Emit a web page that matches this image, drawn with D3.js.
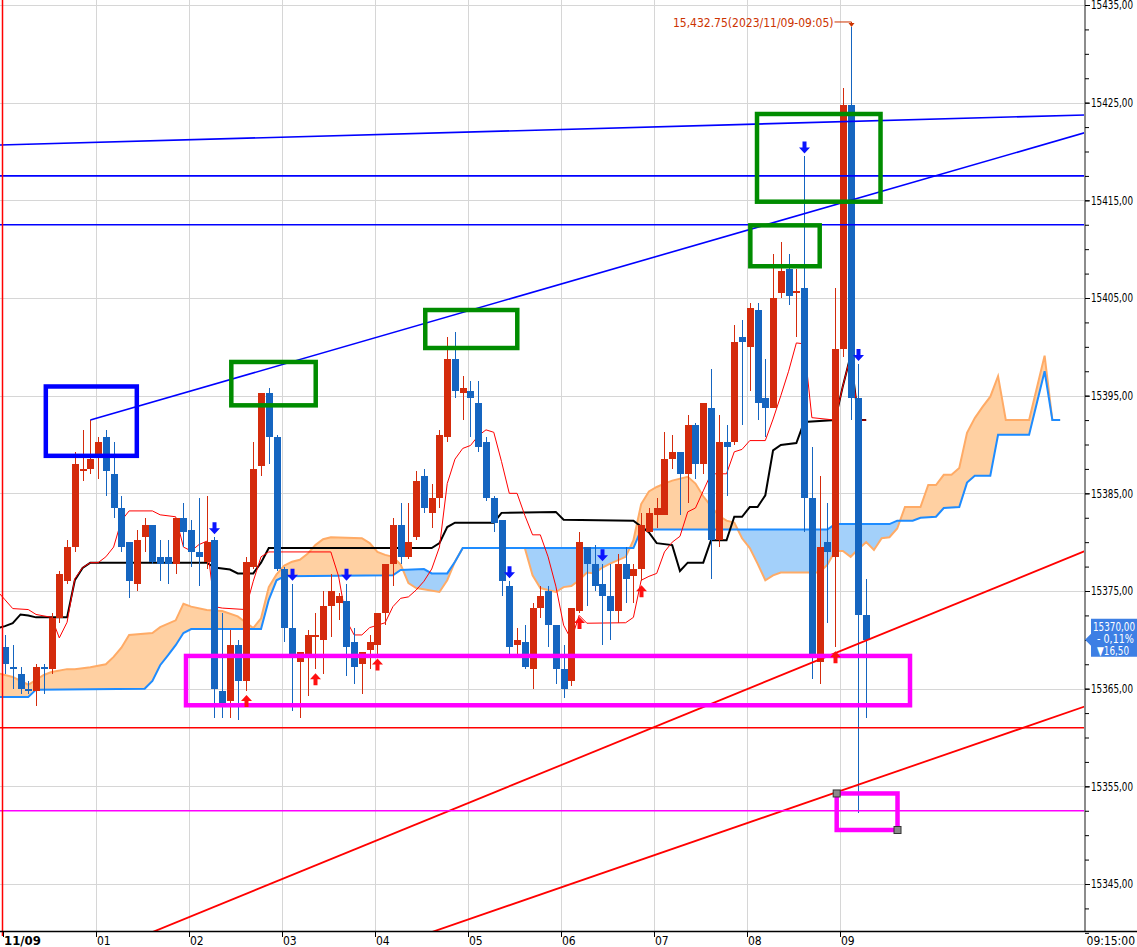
<!DOCTYPE html>
<html lang="ja">
<head>
<meta charset="utf-8">
<title>5分足 一目均衡表</title>
<script src="https://d3js.org/d3.v7.min.js"></script>
<style>
    html, body {
        margin: 0;
        padding: 0;
        background: #fff;
    }
    svg {
        display: block;
    }
    text {
        font-family: "Liberation Sans Narrow", "DejaVu Sans Condensed", "Arial Narrow", sans-serif;
        font-size: 12px;
    }
    .grid line {
        stroke: #d6d6d6;
        stroke-width: 1;
    }
    .candle {
        shape-rendering: crispEdges;
    }
</style>
</head>
<body>
<svg id="chart" width="1137" height="947"></svg>
<script>
    // 5-minute candles, 11/09 00:00 - 09:15
    var opens = [15369.25,15367.25,15366.5,15365,15364.75,15367.25,15367,15372.25,15376,15379.5,
        15387.25,15387.5,15389,15390.75,15387,15383.5,15380,15375.75,15380.5,15381.75,
        15378.5,15378.5,15377.75,15382.5,15381.25,15379,15378,15380.25,15364.75,15363.75,
        15369.5,15365.75,15377.5,15387.75,15395.25,15390.75,15377.25,15371.25,15367.75,15368.5,
        15370.25,15370,15373.5,15373.75,15374,15369.75,15367.5,15369,15369.5,15372.75,
        15377.75,15381.75,15378.5,15380.5,15386.75,15383,15384.5,15390.75,15398.75,15395.25,
        15395.5,15394.25,15390.25,15384.5,15382.25,15375.5,15369.5,15369.75,15367,15373.25,
        15375,15371.5,15367,15365.75,15373,15379.5,15377.75,15375.75,15374.5,15373,
        15377.75,15376.5,15377.25,15381,15382.75,15382.75,15388.5,15389.25,15387,15392,
        15388,15393.75,15380.25,15390.25,15390.25,15401,15400,15403.75,15394.75,15393.75,
        15405.5,15408,15405.5,15406,15384.5,15367.75,15380,15378.5,15399.75,15424.75,
        15394.75,15372.5];
    var highs = [15370.5,15369.5,15367.25,15365.75,15367.5,15367.5,15372.75,15377,15380.25,15389.25,
        15391.5,15392.5,15390.75,15391.5,15390.25,15384.75,15380,15381.25,15382.5,15381.75,
        15380.25,15380.25,15382.5,15384,15382.25,15384.5,15384.75,15380.5,15372.75,15371,
        15370,15378.5,15390.25,15395.25,15395.75,15391,15377.5,15375.75,15368.75,15371,
        15372.75,15375,15376.75,15374.75,15375.75,15371.25,15368.75,15370.5,15372.75,15377.75,
        15382.5,15384,15384,15387.25,15387.5,15386,15391.5,15401,15401.5,15397,
        15396.5,15396.5,15390.75,15384.75,15382.25,15376,15371.25,15371.5,15373.75,15375.5,
        15375.5,15371.5,15369.5,15373.25,15381,15379.5,15379.75,15377.75,15377.75,15378.75,
        15379.5,15377.75,15383,15383.5,15384.5,15391.25,15391,15389.25,15393,15392.25,
        15394.25,15397.75,15393,15392,15402.25,15402.75,15404.5,15404.5,15398.75,15409.5,
        15410.75,15409.5,15408,15419.5,15389.75,15386.75,15384,15406,15426.5,15432.75,
        15398.25,15376.25];
    var lows = [15366.5,15365,15364.5,15364.5,15363.25,15364.5,15366.5,15371.75,15375.75,15379,
        15386.25,15387,15386.5,15384.75,15382.5,15379,15374.25,15375,15379,15377.75,
        15376,15375.75,15376.75,15379.5,15377.5,15375.5,15377.25,15362,15362,15362,
        15361.75,15364.75,15377.25,15386.75,15388,15377,15369.75,15362.75,15362,15364.25,
        15367,15366.5,15370.25,15372,15366.25,15365.5,15364.5,15367,15368.5,15371.5,
        15375.5,15377.75,15378.25,15380.25,15383,15381.5,15383.5,15390.25,15394.75,15392.5,
        15390.75,15389.25,15384.25,15381,15374.5,15368.5,15368.5,15367,15365,15372.25,
        15369.25,15365.5,15364,15365.25,15372.75,15373.5,15375,15369.5,15370,15371.75,
        15373.75,15373.75,15376,15381,15381.5,15382.75,15387.5,15382.75,15384,15386.5,
        15387,15376.25,15379.5,15384.75,15390,15392,15395.5,15392.5,15390.75,15393.75,
        15405,15404.25,15401,15381,15366,15365.5,15371.75,15369.25,15399,15392.5,
        15352.25,15362];
    var closes = [15367.5,15367,15365,15364.75,15367.25,15367,15372.25,15376.75,15379.5,15388,
        15387.5,15388.5,15390.25,15387.25,15383.5,15379.5,15376,15380.25,15381.75,15378,
        15377.75,15377.75,15382.5,15381,15379,15378.5,15380,15365,15363.5,15369.5,
        15365.75,15378,15387.5,15395.25,15390.75,15377.25,15371.25,15368.5,15368.75,15370.5,
        15370.5,15373.5,15375,15374.5,15369.25,15367.25,15368.75,15369.75,15372.75,15377.75,
        15381.75,15378.5,15380,15386.25,15383.5,15384.5,15391,15398.75,15395.5,15395.75,
        15394.75,15389.75,15384.5,15382,15376,15369.25,15370,15367.25,15373.25,15374.5,
        15371.5,15367,15365,15373.25,15380,15377.75,15375.5,15374.5,15373,15377.75,
        15376.25,15377.25,15381.75,15383,15383.5,15388.5,15389.25,15387,15392,15388,
        15394.25,15380.25,15390.25,15389.75,15400.5,15400.5,15404,15394.25,15393.75,15405,
        15407.75,15405.25,15405.75,15384.5,15368.5,15379.5,15379,15399.75,15424.75,15394.75,
        15372.5,15370];

    // ichimoku lines as [bar index, price] points
    var tenkan = [[-1,15375],[0,15374.1],[1,15373.2],[3,15373.1],[4,15372.6],[6,15372.3],[7,15370.2],[8,15371.8],
        [9,15376.25],[10,15377.4],[11,15377.9],[12,15377.9],[13,15378.5],[14,15379.5],[15,15382.2],[16,15383.2],
        [19,15383.2],[20,15382.8],[22,15382.6],[23,15379.5],[24,15379.1],[25,15379.75],[26,15380.1],[27,15373.4],
        [28,15373.25],[31,15373.1],[32,15376],[33,15378.5],[34,15379],[42,15379],[43,15376.5],[44,15372],
        [45,15370.5],[46,15370.5],[47,15371.25],[48,15371.5],[49,15371.75],[50,15373.4],[51,15374.25],[52,15374.4],
        [53,15375.1],[54,15376],[55,15377.25],[56,15379.5],[57,15386],[58,15388.5],[59,15389.6],[60,15389.9],
        [61,15390.9],[62,15391.5],[63,15391.25],[64,15388.25],[65,15385],[66,15385],[67,15382.75],[68,15380.75],
        [69,15380.75],[70,15378.5],[71,15375.5],[72,15371.5],[73,15370],[74,15372.5],[75,15371.7],[80,15371.75],
        [81,15372.3],[82,15376.1],[83,15376.5],[84,15376.8],[85,15379],[86,15380],[87,15380.6],[88,15383.1],
        [89,15383.5],[90,15385.25],[91,15387],[93,15387],[94,15389.25],[95,15389.5],[96,15390.4],[98,15390.4],
        [99,15392.6],[100,15395],[101,15397.5],[102,15400.4],[103,15400.3],[104,15392.75],[107,15392.5],[108,15396],
        [109,15399.1],[110,15392.5],[111,15392.5]];
    var kijun = [[-1,15371.2],[0,15371.4],[1,15371.7],[2,15372.6],[3,15372.5],[4,15372.3],[8,15372.3],[9,15376.1],
        [10,15377.35],[11,15377.9],[26,15377.9],[27,15377.4],[29,15377.2],[30,15376.8],[32,15376.8],[33,15377.9],
        [34,15379.4],[55,15379.4],[56,15379.9],[57,15381.55],[58,15382],[63,15382],[64,15383],[71,15383.1],
        [72,15382.3],[81,15382.2],[83,15381],[84,15379.9],[86,15379.7],[87,15377.05],[88,15377.9],[90,15377.9],
        [91,15380.2],[93,15380.2],[94,15382.6],[95,15382.6],[96,15383.6],[97,15383.6],[98,15384.8],[99,15389.4],
        [100,15389.95],[102,15390.15],[103,15392.3],[107,15392.5],[108,15396],[109,15399.1],[110,15392.5],[111,15392.5]];
    var spanA = [[-1,15366.6],[1,15366.2],[3,15365.4],[5,15366.4],[6,15366.7],[8,15367],[9,15367],[11,15367.2],
        [13,15367.5],[14,15368.25],[15,15369.2],[16,15370.5],[19,15370.7],[20,15371.3],[22,15372],[23,15373.7],
        [24,15373.4],[26,15373.05],[28,15372.95],[30,15372.4],[31,15371.8],[32,15371.2],[33,15372.2],[34,15375.4],
        [35,15376.7],[36,15377.6],[37,15378],[38,15378.2],[39,15378.8],[40,15379.7],[41,15380.3],[42,15380.5],
        [46,15380.4],[47,15379.9],[48,15379],[49,15378.7],[50,15378.5],[51,15377.7],[52,15375.8],[53,15375.3],
        [56,15374.9],[57,15376.1],[58,15378],[59,15379.4],[67,15379.4],[68,15376.6],[69,15375.3],[71,15374.9],
        [72,15375.4],[73,15375.5],[74,15376.1],[75,15376.9],[76,15376.8],[77,15377.4],[78,15377.8],[80,15378.5],
        [81,15380.2],[82,15383.9],[83,15385.2],[84,15385.65],[85,15386],[86,15386.3],[88,15386.7],[89,15386],
        [90,15384.7],[91,15383.7],[92,15382.7],[93,15382.2],[94,15382],[95,15380.4],[96,15379.4],[97,15377.8],
        [98,15376.1],[99,15376.6],[100,15376.9],[105,15376.9],[106,15377.7],[107,15379.1],[108,15379.1],[109,15378.5],
        [110,15379.3],[111,15380],[112,15379.2],[113,15380.4],[114,15380.5],[115,15381.4],[116,15383.6],[118,15383.6],
        [119,15385.85],[120,15385.85],[121,15386.9],[122,15386.9],[123,15387.6],[124,15391.2],[125,15392.7],[126,15393.85],
        [127,15394.9],[128,15397],[129,15392.5],[132,15392.5],[134,15399.1],[135,15392.5],[136,15392.5]];
    var spanB = [[-1,15364.15],[3,15364.15],[4,15364.9],[18,15365],[19,15365.8],[20,15367.4],[21,15368.4],[22,15369.45],
        [23,15370.7],[24,15371.1],[33,15371.1],[34,15374.1],[35,15376.1],[36,15376.5],[50,15376.6],[51,15377.15],
        [54,15377.25],[55,15376.8],[57,15376.8],[58,15378],[59,15379.4],[81,15379.4],[82,15381.3],[106,15381.3],
        [107,15381.85],[114,15381.85],[115,15382.2],[117,15382.2],[118,15382.5],[120,15382.6],[121,15383.5],[123,15383.6],
        [124,15386.1],[125,15386.8],[127,15386.8],[128,15391],[132,15391],[134,15397.5],[135,15392.5],[136,15392.5]];

    // signals
    var sellSignals = [27, 37, 44, 65, 77, 103, 110];
    var buySignals = [31, 40, 48, 74, 82, 107];

    // drawn lines: two anchor points [bar, price]
    var trendTop = [[0, 15420.68], [100, 15422.88]];
    var trendUpper = [[11, 15392.5], [109, 15415]];
    var trendLow1 = [[20, 15340.4], [130, 15376.1]];
    var trendLow2 = [[56, 15340.35], [107, 15354.35]];
    var levelsBlue = [15417.5, 15412.5];
    var levelRed = 15361;
    var levelMagenta = 15352.5;

    // boxes: [[bar0, priceTop], [bar1, priceBottom]]
    var boxBlue = [[5.26, 15395.94], [16.99, 15388.84]];
    var boxesGreen = [
        [[29.17, 15398.45], [40.05, 15394.01]],
        [[54.17, 15403.77], [66.03, 15399.88]],
        [[96.07, 15412.44], [105.01, 15408.25]],
        [[96.93, 15423.84], [112.85, 15414.86]]
    ];
    var boxesMagenta = [
        [[23.33, 15368.35], [116.65, 15363.3]],
        [[107.2, 15354.27], [115.04, 15350.53]]
    ];

    var yLabels = [15345, 15355, 15365, 15375, 15385, 15395, 15405, 15415, 15425, 15435];
    var hourBars = [0, 12, 24, 36, 48, 60, 72, 84, 96, 108];
    var hourLabels = ["11/09", "01", "02", "03", "04", "05", "06", "07", "08", "09"];
    var lastTime = "09:15:00";
    var highBar = 109;
    var highText = "15,432.75(2023/11/09-09:05)";
    var lastPrice = 15370;
    var changePct = "- 0,11%";
    var changeAbs = "▼16,50";

    var plotRight = 1085;
    var plotBottom = 931;

    var svg = d3.select("#chart");

    var x = d3.scaleLinear().domain([0, 111]).range([5, 866.17]);
    var y = d3.scaleLinear().domain([15345, 15435]).range([884, 5]);

    var defs = svg.append("defs");
    defs.append("clipPath").attr("id", "plot")
        .append("rect")
        .attr("x", 0).attr("y", 0)
        .attr("width", plotRight).attr("height", plotBottom);

    var area = d3.area().x(d => x(d[0])).y1(d => y(d[1]));
    defs.append("clipPath").attr("id", "aboveB")
        .append("path")
        .attr("d", area.y0(0)(spanB));
    defs.append("clipPath").attr("id", "aboveA")
        .append("path")
        .attr("d", area.y0(0)(spanA));

    var plot = svg.append("g").attr("clip-path", "url(#plot)");

    // grid
    var grid = plot.append("g").attr("class", "grid");
    grid.selectAll("line.h")
        .data(yLabels)
        .enter()
        .append("line")
        .attr("x1", 0).attr("x2", plotRight)
        .attr("y1", d => Math.round(y(d)) + 0.5)
        .attr("y2", d => Math.round(y(d)) + 0.5);
    grid.selectAll("line.v")
        .data(hourBars.slice(1))
        .enter()
        .append("line")
        .attr("x1", d => Math.round(x(d) - 2.5) + 0.5)
        .attr("x2", d => Math.round(x(d) - 2.5) + 0.5)
        .attr("y1", 0).attr("y2", plotBottom);

    // cloud
    plot.append("path")
        .attr("d", area.y0(plotBottom)(spanA))
        .attr("fill", "#ffd0a2")
        .attr("clip-path", "url(#aboveB)");
    plot.append("path")
        .attr("d", area.y0(plotBottom)(spanB))
        .attr("fill", "#a3d0fa")
        .attr("clip-path", "url(#aboveA)");

    var line = d3.line().x(d => x(d[0])).y(d => y(d[1]));

    plot.append("path").datum(spanA)
        .attr("d", line).attr("fill", "none")
        .attr("stroke", "#ffab66").attr("stroke-width", 2);
    plot.append("path").datum(spanB)
        .attr("d", line).attr("fill", "none")
        .attr("stroke", "#1e8cff").attr("stroke-width", 2);
    plot.append("path").datum(kijun)
        .attr("d", line).attr("fill", "none")
        .attr("stroke", "#000").attr("stroke-width", 2);
    plot.append("path").datum(tenkan)
        .attr("d", line).attr("fill", "none")
        .attr("stroke", "#ff0000").attr("stroke-width", 1);

    // day separator
    svg.append("line")
        .attr("x1", 2.5).attr("x2", 2.5)
        .attr("y1", 0).attr("y2", plotBottom + 5)
        .attr("stroke", "#ff0000").attr("stroke-width", 1.5);

    // candles
    var bars = opens.map((o, i) => ({ i: i, o: o, h: highs[i], l: lows[i], c: closes[i] }));
    var red = "#d42b0c";
    var blue = "#1565c0";

    var cg = plot.append("g").attr("class", "candle");
    cg.selectAll("line")
        .data(bars)
        .enter()
        .append("line")
        .attr("x1", d => Math.round(x(d.i)) + 0.5)
        .attr("x2", d => Math.round(x(d.i)) + 0.5)
        .attr("y1", d => y(d.h))
        .attr("y2", d => y(d.l))
        .attr("stroke", d => d.c >= d.o ? red : blue)
        .attr("stroke-width", 1);
    cg.selectAll("rect")
        .data(bars)
        .enter()
        .append("rect")
        .attr("x", d => Math.round(x(d.i)) - 3)
        .attr("width", 7)
        .attr("y", d => y(Math.max(d.o, d.c)))
        .attr("height", d => Math.max(2, y(Math.min(d.o, d.c)) - y(Math.max(d.o, d.c))))
        .attr("fill", d => d.c >= d.o ? red : blue);

    // trend lines
    function extend(pts, fromStart) {
        var a = pts[0], b = pts[1];
        var k = (b[1] - a[1]) / (b[0] - a[0]);
        var x0 = fromStart ? a[0] : -3;
        return [[x0, a[1] + k * (x0 - a[0])], [145, a[1] + k * (145 - a[0])]];
    }
    plot.append("path").datum(extend(trendTop, false))
        .attr("d", line).attr("stroke", "#0000ff").attr("stroke-width", 1.6).attr("fill", "none");
    plot.append("path").datum(extend(trendUpper, true))
        .attr("d", line).attr("stroke", "#0000ff").attr("stroke-width", 1.6).attr("fill", "none");
    plot.append("path").datum(extend(trendLow1, false))
        .attr("d", line).attr("stroke", "#ff0000").attr("stroke-width", 1.8).attr("fill", "none");
    plot.append("path").datum(extend(trendLow2, false))
        .attr("d", line).attr("stroke", "#ff0000").attr("stroke-width", 1.8).attr("fill", "none");

    plot.selectAll("line.lvb")
        .data(levelsBlue)
        .enter()
        .append("line")
        .attr("x1", 0).attr("x2", plotRight)
        .attr("y1", d => y(d)).attr("y2", d => y(d))
        .attr("stroke", "#0000ff").attr("stroke-width", 1.6);
    plot.append("line")
        .attr("x1", 0).attr("x2", plotRight)
        .attr("y1", y(levelRed)).attr("y2", y(levelRed))
        .attr("stroke", "#ff0000").attr("stroke-width", 1.5);
    plot.append("line")
        .attr("x1", 0).attr("x2", plotRight)
        .attr("y1", y(levelMagenta)).attr("y2", y(levelMagenta))
        .attr("stroke", "#ff00ff").attr("stroke-width", 1.5);

    // boxes
    function drawBox(b, color) {
        plot.append("rect")
            .attr("x", x(b[0][0]))
            .attr("y", y(b[0][1]))
            .attr("width", x(b[1][0]) - x(b[0][0]))
            .attr("height", y(b[1][1]) - y(b[0][1]))
            .attr("fill", "none")
            .attr("stroke", color)
            .attr("stroke-width", 4.5);
    }
    drawBox(boxBlue, "#0000ff");
    boxesGreen.forEach(b => drawBox(b, "#008c00"));
    boxesMagenta.forEach(b => drawBox(b, "#ff00ff"));

    // handles of the selected small box
    var small = boxesMagenta[1];
    plot.selectAll("rect.handle")
        .data([[small[0][0], small[0][1]], [small[1][0], small[1][1]]])
        .enter()
        .append("rect")
        .attr("x", d => x(d[0]) - 3.5)
        .attr("y", d => y(d[1]) - 3.5)
        .attr("width", 7).attr("height", 7)
        .attr("fill", "#8a8a8a")
        .attr("stroke", "#333")
        .attr("stroke-width", 1);

    // signal arrows
    var down = "M-2,-12 h4 v6 h3.5 l-5.5,6 l-5.5,-6 h3.5 z";
    var up = "M-2,12 h4 v-6 h3.5 l-5.5,-6 l-5.5,6 h3.5 z";
    plot.selectAll("path.sell")
        .data(sellSignals)
        .enter()
        .append("path")
        .attr("d", down)
        .attr("transform", i => `translate(${Math.round(x(i)) + 0.5}, ${y(highs[i]) - 3})`)
        .attr("fill", "#0a14ff");
    plot.selectAll("path.buy")
        .data(buySignals)
        .enter()
        .append("path")
        .attr("d", up)
        .attr("transform", i => `translate(${Math.round(x(i)) + 0.5}, ${y(lows[i]) + 4})`)
        .attr("fill", "#ff1010");

    // high label
    var hx = Math.round(x(highBar)) + 0.5;
    var hy = y(highs[highBar]);
    svg.append("text")
        .attr("x", hx - 18)
        .attr("y", hy)
        .attr("text-anchor", "end")
        .attr("fill", "#cc3300")
        .text(highText);
    svg.append("path")
        .attr("d", `M${hx - 17},${hy - 5} H${hx} V${hy - 3}`)
        .attr("fill", "none")
        .attr("stroke", "#cc3300")
        .attr("stroke-width", 1);
    svg.append("path")
        .attr("d", `M${hx - 3},${hy - 4} h6 l-3,4 z`)
        .attr("fill", "#cc3300");

    // right axis
    svg.append("line")
        .attr("x1", plotRight).attr("x2", plotRight)
        .attr("y1", 0).attr("y2", plotBottom)
        .attr("stroke", "#8c8c8c").attr("stroke-width", 2);

    var minor = svg.append("g")
        .attr("transform", `translate(${plotRight}, 0)`)
        .call(d3.axisRight(y).tickValues(d3.range(15340, 15436, 2.5)).tickSize(4).tickFormat(""));
    minor.select(".domain").remove();

    var yAxis = svg.append("g")
        .attr("transform", `translate(${plotRight}, 0)`)
        .call(d3.axisRight(y).tickValues(yLabels).tickSize(5).tickPadding(1)
            .tickFormat(d => d3.format(".2f")(d).replace(".", ",")));
    yAxis.select(".domain").remove();
    yAxis.selectAll("text")
        .style("font-family", "\"Liberation Sans Narrow\", \"DejaVu Sans Condensed\", sans-serif")
        .style("font-size", "11.5px")
        .attr("textLength", 42)
        .attr("lengthAdjust", "spacingAndGlyphs")
        .attr("fill", "#000");

    // bottom axis
    svg.append("line")
        .attr("x1", 0).attr("x2", 1137)
        .attr("y1", plotBottom + 0.5).attr("y2", plotBottom + 0.5)
        .attr("stroke", "#000").attr("stroke-width", 1.5);
    svg.selectAll("line.xt")
        .data(hourBars)
        .enter()
        .append("line")
        .attr("x1", d => Math.round(x(d) - 2.5) + 0.5)
        .attr("x2", d => Math.round(x(d) - 2.5) + 0.5)
        .attr("y1", plotBottom).attr("y2", plotBottom + 6)
        .attr("stroke", "#000");
    svg.selectAll("text.xl")
        .data(hourBars)
        .enter()
        .append("text")
        .attr("x", d => Math.round(x(d) - 2.5) + 1)
        .attr("y", 945)
        .style("font-weight", (d, i) => i === 0 ? "bold" : "normal")
        .style("font-size", (d, i) => i === 0 ? "13px" : "12px")
        .text((d, i) => hourLabels[i]);
    svg.append("text")
        .attr("x", 1135)
        .attr("y", 945)
        .attr("text-anchor", "end")
        .text(lastTime);

    // last price tag
    var ty = y(lastPrice);
    svg.append("path")
        .attr("d", `M${plotRight},${ty} L1091,${ty - 6} V${ty - 21} H1137 V${ty + 17} H1091 V${ty + 6} Z`)
        .attr("fill", "#3d7fe4");
    var tag = svg.append("g").attr("fill", "#fff").style("font-size", "10px");
    tag.append("text").attr("x", 1093).attr("y", ty - 9)
        .attr("textLength", 42).attr("lengthAdjust", "spacingAndGlyphs")
        .text(d3.format(".2f")(lastPrice).replace(".", ","));
    tag.append("text").attr("x", 1097).attr("y", ty + 3.5)
        .attr("textLength", 37).attr("lengthAdjust", "spacingAndGlyphs")
        .text(changePct);
    tag.append("text").attr("x", 1097).attr("y", ty + 15)
        .attr("textLength", 32).attr("lengthAdjust", "spacingAndGlyphs")
        .text(changeAbs);
</script>
</body>
</html>
